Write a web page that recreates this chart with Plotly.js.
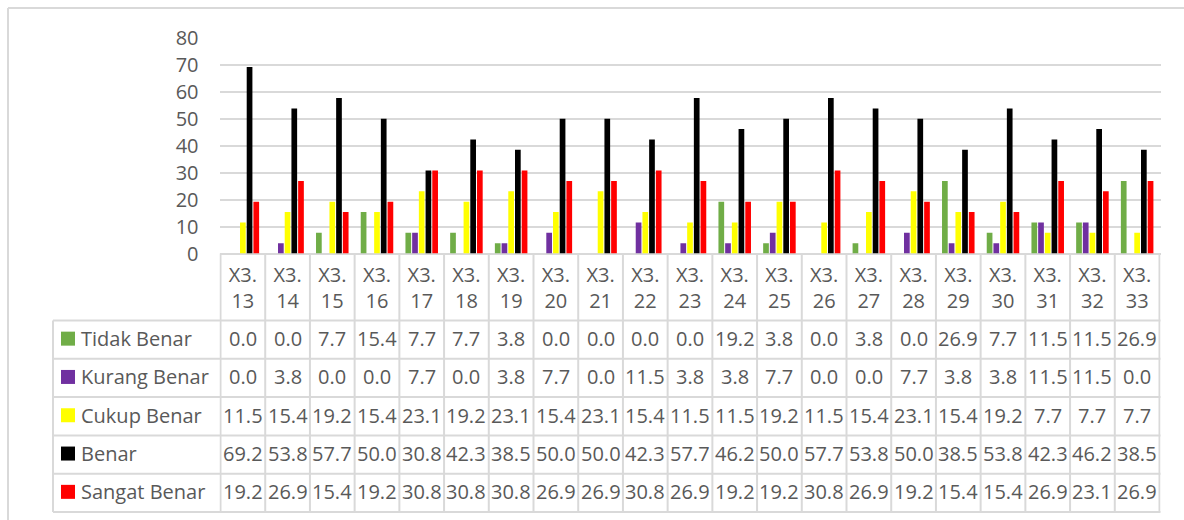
<!DOCTYPE html>
<html>
<head>
<meta charset="utf-8">
<script src="https://cdn.plot.ly/plotly-3.0.1.min.js"></script>
<style>html,body{margin:0;padding:0;background:#fff;}#chart{width:1184px;height:520px;}</style>
</head>
<body>
<div id="chart"></div>
<script>
const categories = ["X3.13","X3.14","X3.15","X3.16","X3.17","X3.18","X3.19","X3.20","X3.21","X3.22","X3.23","X3.24","X3.25","X3.26","X3.27","X3.28","X3.29","X3.30","X3.31","X3.32","X3.33"];
const seriesNames = ["Tidak Benar","Kurang Benar","Cukup Benar","Benar","Sangat Benar"];
const tidakBenar  = [0.0,0.0,7.7,15.4,7.7,7.7,3.8,0.0,0.0,0.0,0.0,19.2,3.8,0.0,3.8,0.0,26.9,7.7,11.5,11.5,26.9];
const kurangBenar = [0.0,3.8,0.0,0.0,7.7,0.0,3.8,7.7,0.0,11.5,3.8,3.8,7.7,0.0,0.0,7.7,3.8,3.8,11.5,11.5,0.0];
const cukupBenar  = [11.5,15.4,19.2,15.4,23.1,19.2,23.1,15.4,23.1,15.4,11.5,11.5,19.2,11.5,15.4,23.1,15.4,19.2,7.7,7.7,7.7];
const benar       = [69.2,53.8,57.7,50.0,30.8,42.3,38.5,50.0,50.0,42.3,57.7,46.2,50.0,57.7,53.8,50.0,38.5,53.8,42.3,46.2,38.5];
const sangatBenar = [19.2,26.9,15.4,19.2,30.8,30.8,30.8,26.9,26.9,30.8,26.9,19.2,19.2,30.8,26.9,19.2,15.4,15.4,26.9,23.1,26.9];
const seriesValues = [tidakBenar, kurangBenar, cukupBenar, benar, sangatBenar];
const seriesColors = ["#70AD47","#7030A0","#FFFF00","#000000","#FF0000"];

const W = 1184, H = 520;
const px = x => x / W;
const py = y => 1 - y / H;
const FONT = "Open Sans, Noto Sans, sans-serif";
const TXT = "#595959";
const GRID = "#D9D9D9";
const FS = 20;

const tickText = categories.map(c => c.slice(0,3) + "<br>" + c.slice(3));

const traces = seriesNames.map((name, i) => ({
  type: "bar",
  name: name,
  x: categories,
  y: seriesValues[i],
  marker: {color: seriesColors[i]},
  showlegend: false,
  hoverinfo: "x+y+name"
}));

// table geometry (pixels)
const tableTop = 253.5, headerBottom = 320.5, rowH = 38.3;
const rowLines = [0,1,2,3,4,5].map(k => headerBottom + k * rowH);
const legendLeft = 53, tableRight = 1160.5;

const shapes = [];
// outer chart border (top, left)
shapes.push({type:"line", xref:"paper", yref:"paper", x0:px(8), x1:px(1190), y0:py(8), y1:py(8), line:{color:GRID, width:2}});
shapes.push({type:"line", xref:"paper", yref:"paper", x0:px(8), x1:px(8), y0:py(8), y1:py(530), line:{color:GRID, width:2}});
// vertical table lines at category boundaries
for (let k = 0; k <= categories.length; k++) {
  shapes.push({type:"line", xref:"x", yref:"paper", x0:k-0.5, x1:k-0.5, y0:py(tableTop), y1:py(rowLines[5]), line:{color:GRID, width:2}});
}
// legend column left line
shapes.push({type:"line", xref:"paper", yref:"paper", x0:px(legendLeft), x1:px(legendLeft), y0:py(headerBottom), y1:py(rowLines[5]), line:{color:GRID, width:2}});
// horizontal row lines
rowLines.forEach(yy => {
  shapes.push({type:"line", xref:"paper", yref:"paper", x0:px(legendLeft), x1:px(tableRight), y0:py(yy), y1:py(yy), line:{color:GRID, width:2}});
});

const annotations = [];
seriesNames.forEach((name, i) => {
  const cy = (rowLines[i] + rowLines[i+1]) / 2 - 1;
  // legend key square
  shapes.push({type:"rect", xref:"paper", yref:"paper", x0:px(61), x1:px(75), y0:py(cy-7), y1:py(cy+7), fillcolor:seriesColors[i], line:{width:0}});
  annotations.push({xref:"paper", yref:"paper", x:px(79), y:py(cy), xanchor:"left", yanchor:"middle", text:name, showarrow:false, font:{family:FONT, size:FS, color:TXT}});
  seriesValues[i].forEach((v, j) => {
    annotations.push({xref:"x", yref:"paper", x:categories[j], y:py(cy), xanchor:"center", yanchor:"middle", text:v.toFixed(1), showarrow:false, font:{family:FONT, size:FS, color:TXT}});
  });
});

const layout = {
  width: W, height: H,
  margin: {l:0, r:0, t:0, b:0},
  paper_bgcolor: "#ffffff",
  plot_bgcolor: "#ffffff",
  barmode: "group",
  bargap: 0.25,
  bargroupgap: 0.15,
  showlegend: false,
  xaxis: {
    domain: [px(219.5), px(1160.5)],
    type: "category",
    tickmode: "array",
    tickvals: categories,
    ticktext: tickText,
    ticks: "",
    showgrid: false,
    showline: false,
    zeroline: false,
    ticklabelstandoff: 7,
    tickfont: {family: FONT, size: FS, color: TXT},
    fixedrange: true
  },
  yaxis: {
    domain: [py(253.5), py(38)],
    range: [0, 80],
    dtick: 10,
    tick0: 0,
    showgrid: true,
    gridcolor: GRID,
    gridwidth: 2,
    zeroline: true,
    zerolinecolor: GRID,
    zerolinewidth: 2,
    showline: false,
    ticks: "",
    ticklabelstandoff: 20,
    tickfont: {family: FONT, size: FS, color: TXT},
    fixedrange: true
  },
  shapes: shapes,
  annotations: annotations,
  font: {family: FONT, color: TXT}
};

Plotly.newPlot("chart", traces, layout, {displayModeBar: false, staticPlot: true});
</script>
</body>
</html>
